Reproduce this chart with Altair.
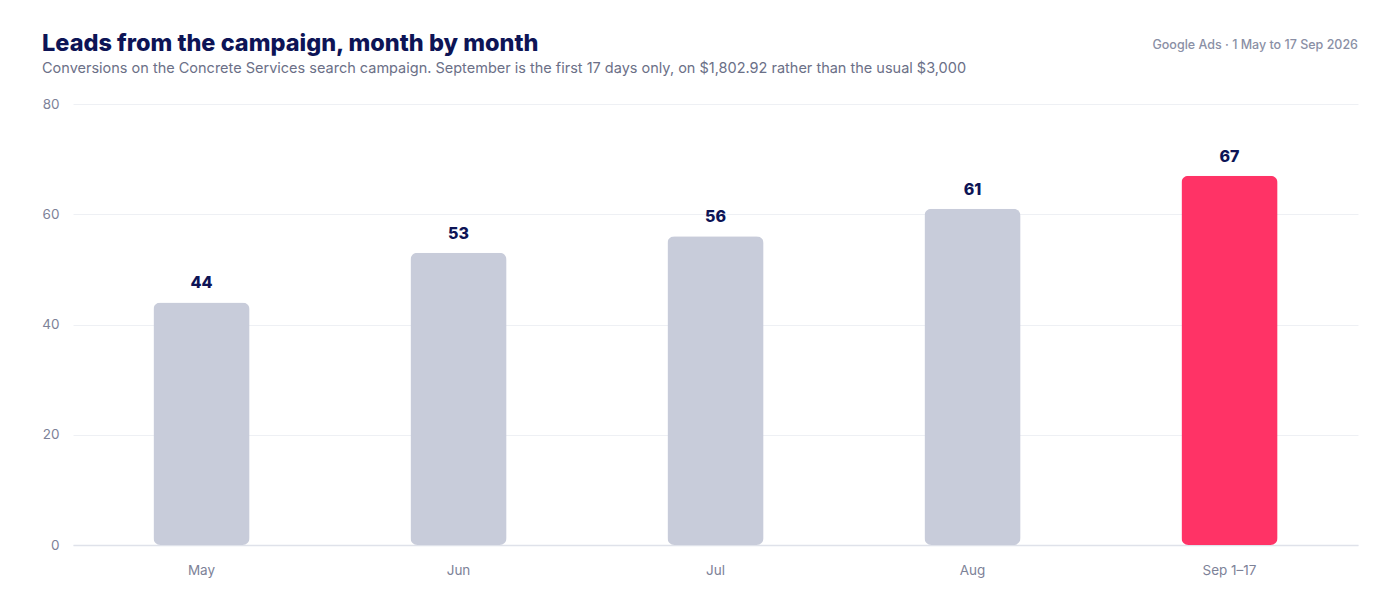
import altair as alt
import pandas as pd

months = ["May", "Jun", "Jul", "Aug", "Sep 1–17"]
leads = [44, 53, 56, 61, 67]
highlight = [False, False, False, False, True]

title_text = "Leads from the campaign, month by month"
subtitle_text = ("Conversions on the Concrete Services search campaign. September is the "
                 "first 17 days only, on $1,802.92 rather than the usual $3,000")
source_text = "Google Ads · 1 May to 17 Sep 2026"

df = pd.DataFrame({"month": months, "leads": leads, "current": highlight})

FONT = "Inter"
NAVY = "#0d1456"
GREY_TXT = "#7d8298"

base = alt.Chart(df).encode(
    x=alt.X("month:N", sort=months, title=None,
            scale=alt.Scale(paddingInner=0.626, paddingOuter=0.313),
            axis=alt.Axis(labelAngle=0, labelPadding=18, labelFontSize=13.5,
                          labelColor=GREY_TXT, labelFont=FONT, ticks=False,
                          domain=True, domainColor="#dfe2ea", domainWidth=1.5,
                          grid=False)),
    y=alt.Y("leads:Q", title=None,
            scale=alt.Scale(domain=[0, 80]),
            axis=alt.Axis(values=[0, 20, 40, 60, 80], labelPadding=14,
                          labelFontSize=13.5, labelColor=GREY_TXT, labelFont=FONT,
                          ticks=False, domain=False, grid=True,
                          gridColor="#eef0f4", gridWidth=1)),
)

bars = base.mark_bar(cornerRadius=7).encode(
    color=alt.Color("current:N", scale=alt.Scale(domain=[False, True],
                                                 range=["#c8ccda", "#ff3366"]),
                    legend=None)
)

labels = base.mark_text(baseline="bottom", dy=-11, fontSize=16,
                        fontWeight=800, font=FONT, color=NAVY).encode(
    text=alt.Text("leads:Q")
)

title = alt.Chart(pd.DataFrame({"t": [title_text]})).mark_text(
    align="left", baseline="alphabetic", fontSize=23.5, fontWeight=800,
    font=FONT, color=NAVY
).encode(text="t:N", x=alt.value(-31), y=alt.value(-53))

subtitle = alt.Chart(pd.DataFrame({"t": [subtitle_text]})).mark_text(
    align="left", baseline="alphabetic", fontSize=14.5,
    font=FONT, color="#6b7087"
).encode(text="t:N", x=alt.value(-31), y=alt.value(-31))

source = alt.Chart(pd.DataFrame({"t": [source_text]})).mark_text(
    align="right", baseline="alphabetic", fontSize=12.5, fontWeight=500,
    font=FONT, color="#8a8fa5"
).encode(text="t:N", x=alt.value(1285), y=alt.value(-55))

chart = alt.layer(bars, labels, title, subtitle, source).properties(
    width=1285, height=441,
    background="white",
    autosize=alt.AutoSizeParams(type="none"),
    padding={"left": 65, "top": 96, "right": 34, "bottom": 47},
).configure_view(strokeWidth=0, stroke="transparent")

chart.save("out.html", embed_options={"renderer": "svg", "actions": False})
